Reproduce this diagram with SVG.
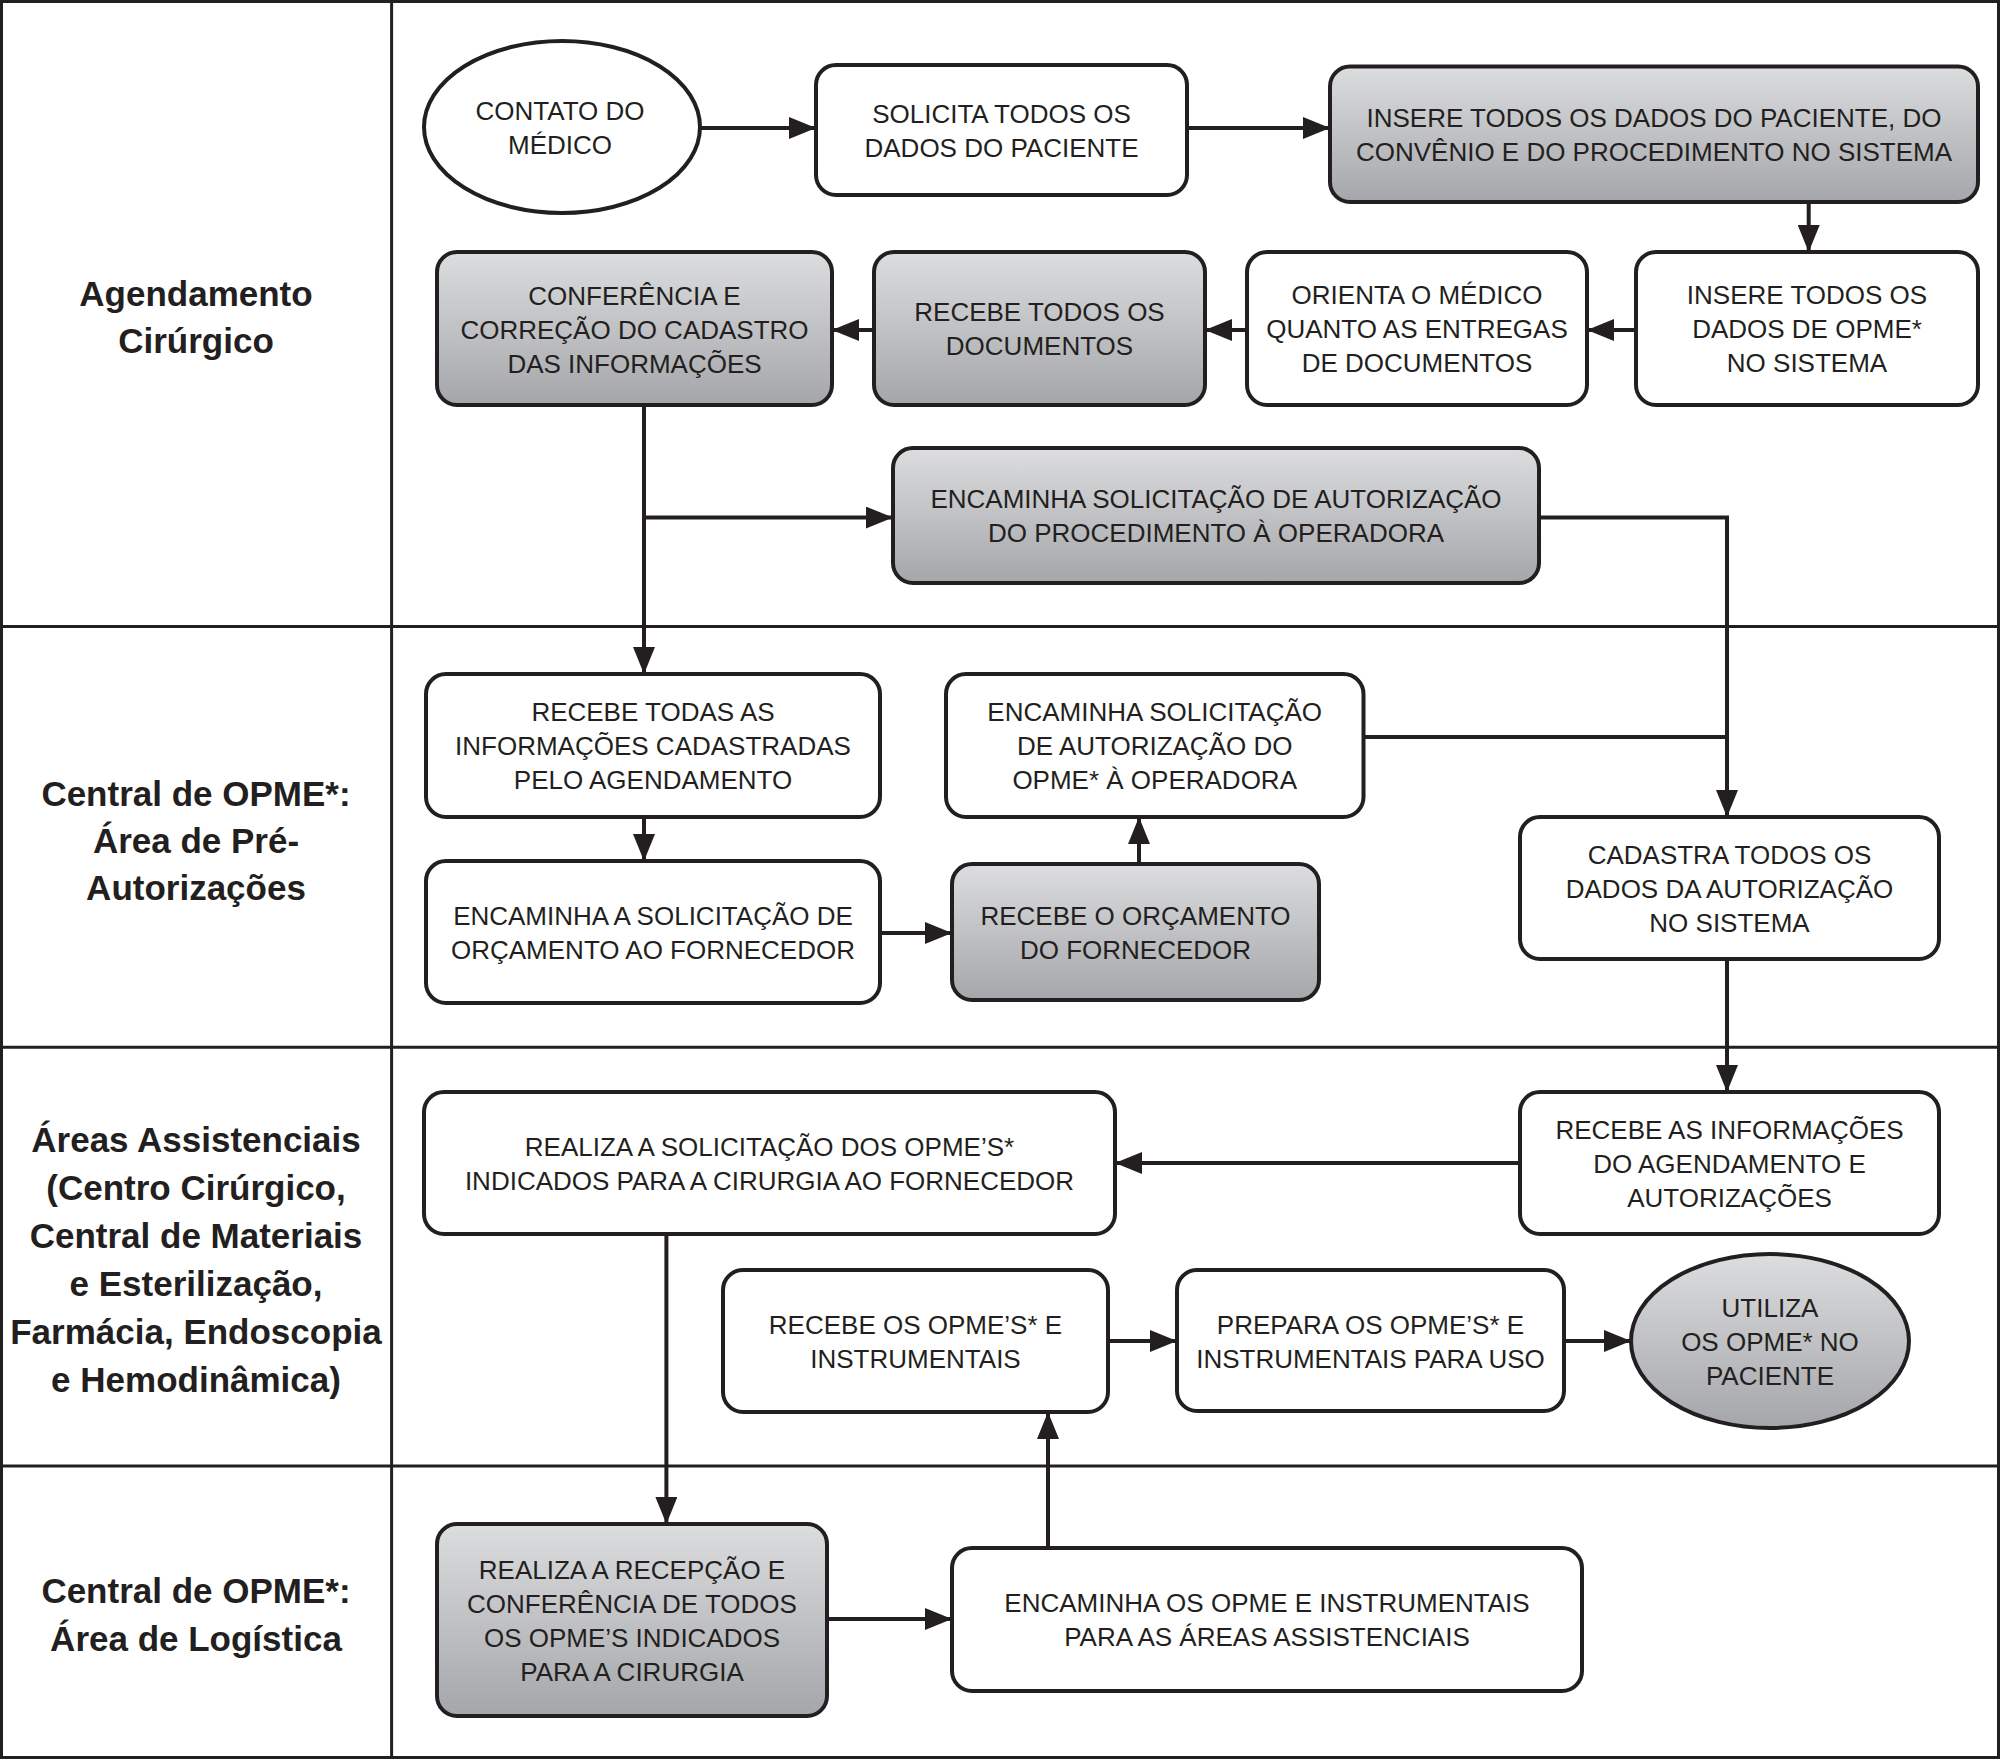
<svg xmlns="http://www.w3.org/2000/svg" width="2000" height="1759" viewBox="0 0 2000 1759">
<defs>
<linearGradient id="gray" x1="0" y1="0" x2="0" y2="1">
<stop offset="0" stop-color="#dcdddf"/>
<stop offset="1" stop-color="#a4a6a9"/>
</linearGradient>
<marker id="ah" markerUnits="userSpaceOnUse" markerWidth="28" markerHeight="22" refX="27" refY="11" orient="auto">
<path d="M0,0 L27,11 L0,22 z" fill="#231f20"/>
</marker>
</defs>
<style>
.lane{fill:none;stroke:#231f20;stroke-width:3}
.box{fill:#ffffff;stroke:#231f20;stroke-width:4}
.g{fill:url(#gray)}
.t{font-family:"Liberation Sans",Arial,sans-serif;font-size:26px;fill:#231f20;text-anchor:middle}
.lbl{font-family:"Liberation Sans",Arial,sans-serif;font-size:35px;font-weight:bold;fill:#231f20;text-anchor:middle}
.c{fill:none;stroke:#231f20;stroke-width:4}
.a{marker-end:url(#ah)}
</style>
<rect width="2000" height="1759" fill="#ffffff"/>
<g id="lanes">
<rect class="lane" x="1.5" y="1.5" width="1997" height="1756"/>
<line class="lane" x1="391.6" y1="0" x2="391.6" y2="1759"/>
<line class="lane" x1="0" y1="626.5" x2="2000" y2="626.5"/>
<line class="lane" x1="0" y1="1047.3" x2="2000" y2="1047.3"/>
<line class="lane" x1="0" y1="1466" x2="2000" y2="1466"/>
<text class="lbl"><tspan x="196" y="306">Agendamento</tspan><tspan x="196" y="353">Cirúrgico</tspan></text>
<text class="lbl"><tspan x="196" y="806">Central de OPME*:</tspan><tspan x="196" y="853">Área de Pré-</tspan><tspan x="196" y="900">Autorizações</tspan></text>
<text class="lbl"><tspan x="196" y="1152">Áreas Assistenciais</tspan><tspan x="196" y="1200">(Centro Cirúrgico,</tspan><tspan x="196" y="1248">Central de Materiais</tspan><tspan x="196" y="1296">e Esterilização,</tspan><tspan x="196" y="1344">Farmácia, Endoscopia</tspan><tspan x="196" y="1392">e Hemodinâmica)</tspan></text>
<text class="lbl"><tspan x="196" y="1603">Central de OPME*:</tspan><tspan x="196" y="1651">Área de Logística</tspan></text>
</g>
<g id="connectors">
<line class="c a" x1="700" y1="128" x2="816" y2="128"/>
<line class="c a" x1="1187" y1="128" x2="1330" y2="128"/>
<line class="c a" x1="1808.7" y1="202" x2="1808.7" y2="252"/>
<line class="c a" x1="1636" y1="330" x2="1587" y2="330"/>
<line class="c a" x1="1247" y1="330" x2="1205" y2="330"/>
<line class="c a" x1="874" y1="330" x2="832" y2="330"/>
<line class="c a" x1="644" y1="405" x2="644" y2="674"/>
<line class="c a" x1="644" y1="517.6" x2="893" y2="517.6"/>
<polyline class="c a" points="1539,517.6 1727,517.6 1727,817"/>
<line class="c" x1="1363.5" y1="737" x2="1727" y2="737"/>
<line class="c a" x1="644" y1="817" x2="644" y2="861"/>
<line class="c a" x1="880" y1="933" x2="952" y2="933"/>
<line class="c a" x1="1139" y1="864" x2="1139" y2="817"/>
<line class="c a" x1="1727" y1="959" x2="1727" y2="1092"/>
<line class="c a" x1="1520" y1="1163" x2="1115" y2="1163"/>
<line class="c a" x1="666.4" y1="1234" x2="666.4" y2="1524"/>
<line class="c a" x1="827" y1="1619" x2="952" y2="1619"/>
<line class="c a" x1="1048" y1="1548" x2="1048" y2="1412"/>
<line class="c a" x1="1108" y1="1341" x2="1177" y2="1341"/>
<line class="c a" x1="1564" y1="1341" x2="1631" y2="1341"/>
</g>
<g id="n-contato">
<ellipse class="box" cx="562" cy="127" rx="138" ry="86"/>
<text class="t"><tspan x="560" y="120">CONTATO DO</tspan><tspan x="560" y="154">MÉDICO</tspan></text>
</g>
<g id="n-solicita">
<rect class="box" x="816" y="65" width="371" height="130" rx="20"/>
<text class="t"><tspan x="1001.5" y="123">SOLICITA TODOS OS</tspan><tspan x="1001.5" y="157">DADOS DO PACIENTE</tspan></text>
</g>
<g id="n-insere-dados">
<rect class="box g" x="1330" y="66.5" width="648" height="135.5" rx="20"/>
<text class="t"><tspan x="1654" y="127">INSERE TODOS OS DADOS DO PACIENTE, DO</tspan><tspan x="1654" y="161">CONVÊNIO E DO PROCEDIMENTO NO SISTEMA</tspan></text>
</g>
<g id="n-insere-opme">
<rect class="box" x="1636" y="252" width="342" height="153" rx="20"/>
<text class="t"><tspan x="1807" y="304">INSERE TODOS OS</tspan><tspan x="1807" y="338">DADOS DE OPME*</tspan><tspan x="1807" y="372">NO SISTEMA</tspan></text>
</g>
<g id="n-orienta">
<rect class="box" x="1247" y="252" width="340" height="153" rx="20"/>
<text class="t"><tspan x="1417" y="304">ORIENTA O MÉDICO</tspan><tspan x="1417" y="338">QUANTO AS ENTREGAS</tspan><tspan x="1417" y="372">DE DOCUMENTOS</tspan></text>
</g>
<g id="n-recebe-docs">
<rect class="box g" x="874" y="252" width="331" height="153" rx="20"/>
<text class="t"><tspan x="1039.5" y="321">RECEBE TODOS OS</tspan><tspan x="1039.5" y="355">DOCUMENTOS</tspan></text>
</g>
<g id="n-conferencia">
<rect class="box g" x="437" y="252" width="395" height="153" rx="20"/>
<text class="t"><tspan x="634.5" y="305">CONFERÊNCIA E</tspan><tspan x="634.5" y="339">CORREÇÃO DO CADASTRO</tspan><tspan x="634.5" y="373">DAS INFORMAÇÕES</tspan></text>
</g>
<g id="n-encaminha-proc">
<rect class="box g" x="893" y="448" width="646" height="135" rx="20"/>
<text class="t"><tspan x="1216" y="508">ENCAMINHA SOLICITAÇÃO DE AUTORIZAÇÃO</tspan><tspan x="1216" y="542">DO PROCEDIMENTO À OPERADORA</tspan></text>
</g>
<g id="n-recebe-todas">
<rect class="box" x="426" y="674" width="454" height="143" rx="20"/>
<text class="t"><tspan x="653" y="721">RECEBE TODAS AS</tspan><tspan x="653" y="755">INFORMAÇÕES CADASTRADAS</tspan><tspan x="653" y="789">PELO AGENDAMENTO</tspan></text>
</g>
<g id="n-encaminha-orcamento">
<rect class="box" x="426" y="861" width="454" height="142" rx="20"/>
<text class="t"><tspan x="653" y="925">ENCAMINHA A SOLICITAÇÃO DE</tspan><tspan x="653" y="959">ORÇAMENTO AO FORNECEDOR</tspan></text>
</g>
<g id="n-encaminha-opme">
<rect class="box" x="946" y="674" width="417.5" height="143" rx="20"/>
<text class="t"><tspan x="1154.7" y="721">ENCAMINHA SOLICITAÇÃO</tspan><tspan x="1154.7" y="755">DE AUTORIZAÇÃO DO</tspan><tspan x="1154.7" y="789">OPME* À OPERADORA</tspan></text>
</g>
<g id="n-recebe-orcamento">
<rect class="box g" x="952" y="864" width="367" height="136" rx="20"/>
<text class="t"><tspan x="1135.5" y="925">RECEBE O ORÇAMENTO</tspan><tspan x="1135.5" y="959">DO FORNECEDOR</tspan></text>
</g>
<g id="n-cadastra">
<rect class="box" x="1520" y="817" width="419" height="142" rx="20"/>
<text class="t"><tspan x="1729.5" y="864">CADASTRA TODOS OS</tspan><tspan x="1729.5" y="898">DADOS DA AUTORIZAÇÃO</tspan><tspan x="1729.5" y="932">NO SISTEMA</tspan></text>
</g>
<g id="n-realiza-solicitacao">
<rect class="box" x="424" y="1092" width="691" height="142" rx="20"/>
<text class="t"><tspan x="769.5" y="1156">REALIZA A SOLICITAÇÃO DOS OPME’S*</tspan><tspan x="769.5" y="1190">INDICADOS PARA A CIRURGIA AO FORNECEDOR</tspan></text>
</g>
<g id="n-recebe-informacoes">
<rect class="box" x="1520" y="1092" width="419" height="142" rx="20"/>
<text class="t"><tspan x="1729.5" y="1139">RECEBE AS INFORMAÇÕES</tspan><tspan x="1729.5" y="1173">DO AGENDAMENTO E</tspan><tspan x="1729.5" y="1207">AUTORIZAÇÕES</tspan></text>
</g>
<g id="n-recebe-opmes">
<rect class="box" x="723" y="1270" width="385" height="142" rx="20"/>
<text class="t"><tspan x="915.5" y="1334">RECEBE OS OPME’S* E</tspan><tspan x="915.5" y="1368">INSTRUMENTAIS</tspan></text>
</g>
<g id="n-prepara">
<rect class="box" x="1177" y="1270" width="387" height="141" rx="20"/>
<text class="t"><tspan x="1370.5" y="1334">PREPARA OS OPME’S* E</tspan><tspan x="1370.5" y="1368">INSTRUMENTAIS PARA USO</tspan></text>
</g>
<g id="n-utiliza">
<ellipse class="box g" cx="1770" cy="1341" rx="139" ry="87"/>
<text class="t"><tspan x="1770" y="1317">UTILIZA</tspan><tspan x="1770" y="1351">OS OPME* NO</tspan><tspan x="1770" y="1385">PACIENTE</tspan></text>
</g>
<g id="n-realiza-recepcao">
<rect class="box g" x="437" y="1524" width="390" height="192" rx="20"/>
<text class="t"><tspan x="632" y="1579">REALIZA A RECEPÇÃO E</tspan><tspan x="632" y="1613">CONFERÊNCIA DE TODOS</tspan><tspan x="632" y="1647">OS OPME’S INDICADOS</tspan><tspan x="632" y="1681">PARA A CIRURGIA</tspan></text>
</g>
<g id="n-encaminha-instrumentais">
<rect class="box" x="952" y="1548" width="630" height="143" rx="20"/>
<text class="t"><tspan x="1267" y="1612">ENCAMINHA OS OPME E INSTRUMENTAIS</tspan><tspan x="1267" y="1646">PARA AS ÁREAS ASSISTENCIAIS</tspan></text>
</g>
</svg>
